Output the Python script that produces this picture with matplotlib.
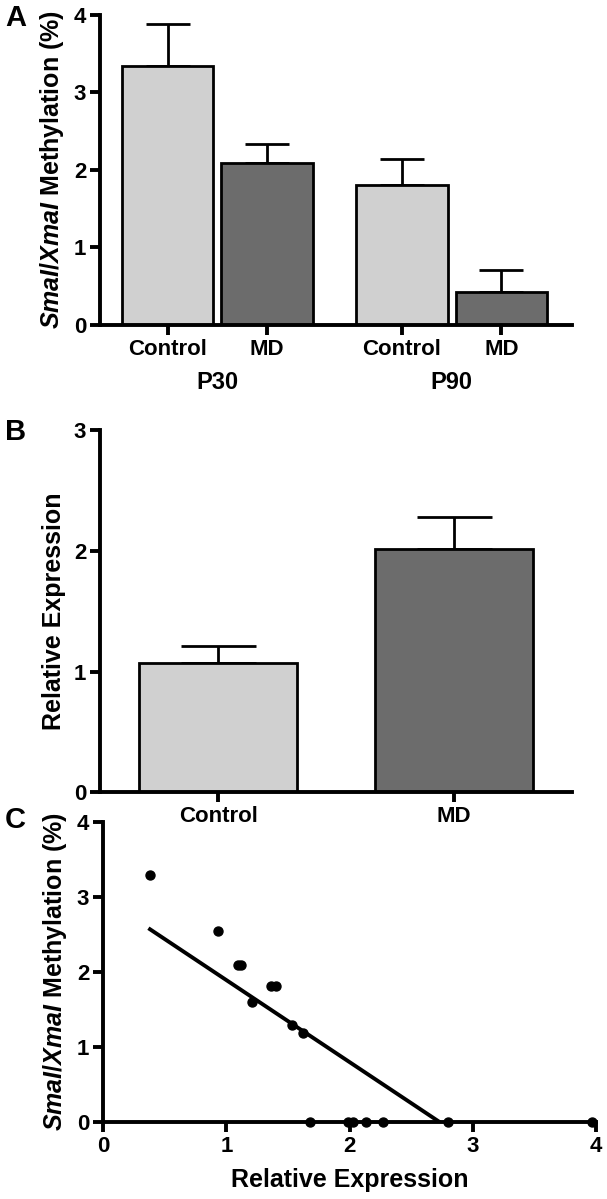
import numpy as np
import matplotlib
matplotlib.use("Agg")
import matplotlib.pyplot as plt

plt.rcParams["font.family"] = ["Liberation Sans", "DejaVu Sans"]
plt.rcParams["font.weight"] = "bold"
plt.rcParams["mathtext.fontset"] = "custom"
plt.rcParams["mathtext.it"] = "Liberation Sans:bold:italic"
plt.rcParams["mathtext.rm"] = "Liberation Sans:bold"

# Panel A: methylation by age / group
a_labels = ["Control", "MD", "Control", "MD"]
a_groups = ["P30", "P90"]
a_means = [3.34, 2.09, 1.80, 0.42]
a_err = [0.54, 0.24, 0.34, 0.29]

# Panel B: relative expression
b_labels = ["Control", "MD"]
b_means = [1.07, 2.02]
b_err = [0.14, 0.26]

# Panel C: methylation vs expression
c_x = [0.38, 0.93, 1.09, 1.12, 1.36, 1.40, 1.21, 1.53, 1.62,
       1.68, 1.99, 2.03, 2.13, 2.27, 2.80, 3.97]
c_y = [3.30, 2.55, 2.10, 2.10, 1.82, 1.82, 1.60, 1.29, 1.19,
       0, 0, 0, 0, 0, 0, 0]
fit_x = [0.38, 2.73]
fit_y = [2.57, 0.0]

LIGHT = "#d0d0d0"
DARK = "#6c6c6c"
TICK_FS = 16
LABEL_FS = 18
LW = 2.8

ylab_meth = r"$\mathit{SmaI}$/$\mathit{XmaI}$ Methylation (%)"


def style_axes(ax):
    for s in ["top", "right"]:
        ax.spines[s].set_visible(False)
    for s in ["left", "bottom"]:
        ax.spines[s].set_linewidth(LW)
    ax.tick_params(width=LW, length=7, labelsize=TICK_FS, direction="out", pad=3)


fig = plt.figure(figsize=(6.07, 11.99), dpi=100)

# ---- A ----
axA = fig.add_axes([0.165, 0.729, 0.777, 0.2585])
xa = [0, 1, 2.36, 3.36]
colors_a = [LIGHT, DARK, LIGHT, DARK]
axA.bar(xa, a_means, width=0.92, color=colors_a, edgecolor="black", linewidth=2.0, zorder=2)
axA.errorbar(xa, a_means, yerr=[np.zeros(4), a_err], fmt="none", ecolor="black",
             elinewidth=2.0, capsize=16, capthick=2.0, zorder=1)
axA.set_xlim(-0.68, 4.07)
axA.set_ylim(0, 4)
axA.set_yticks([0, 1, 2, 3, 4])
axA.set_xticks(xa)
axA.set_xticklabels(a_labels)
style_axes(axA)
axA.set_ylabel(ylab_meth, fontsize=LABEL_FS, fontweight="bold", labelpad=6)
for g, cx in zip(a_groups, [0.5, 2.86]):
    axA.text(cx, -0.74, g, ha="center", va="center", fontsize=17, fontweight="bold")
fig.text(0.008, 0.985, "A", fontsize=21, fontweight="bold", va="center")

# ---- B ----
axB = fig.add_axes([0.165, 0.3394, 0.777, 0.3016])
xb = [0, 1]
axB.bar(xb, b_means, width=0.67, color=[LIGHT, DARK], edgecolor="black", linewidth=2.0, zorder=2)
axB.errorbar(xb, b_means, yerr=[np.zeros(2), b_err], fmt="none", ecolor="black",
             elinewidth=2.0, capsize=27, capthick=2.0, zorder=1)
axB.set_xlim(-0.5, 1.5)
axB.set_ylim(0, 3)
axB.set_yticks([0, 1, 2, 3])
axB.set_xticks(xb)
axB.set_xticklabels(b_labels)
style_axes(axB)
axB.set_ylabel("Relative Expression", fontsize=LABEL_FS, fontweight="bold", labelpad=6)
fig.text(0.008, 0.64, "B", fontsize=21, fontweight="bold", va="center")

# ---- C ----
axC = fig.add_axes([0.17, 0.0642, 0.812, 0.2502])
axC.plot(fit_x, fit_y, color="black", linewidth=2.8, zorder=2)
axC.scatter(c_x, c_y, s=42, color="black", zorder=3, clip_on=False)
axC.set_xlim(0, 4)
axC.set_ylim(0, 4)
axC.set_xticks([0, 1, 2, 3, 4])
axC.set_yticks([0, 1, 2, 3, 4])
style_axes(axC)
axC.set_ylabel(ylab_meth, fontsize=LABEL_FS, fontweight="bold", labelpad=6)
axC.set_xlabel("Relative Expression", fontsize=LABEL_FS, fontweight="bold", labelpad=8)
fig.text(0.008, 0.316, "C", fontsize=21, fontweight="bold", va="center")

fig.savefig("out.png", dpi=100)
